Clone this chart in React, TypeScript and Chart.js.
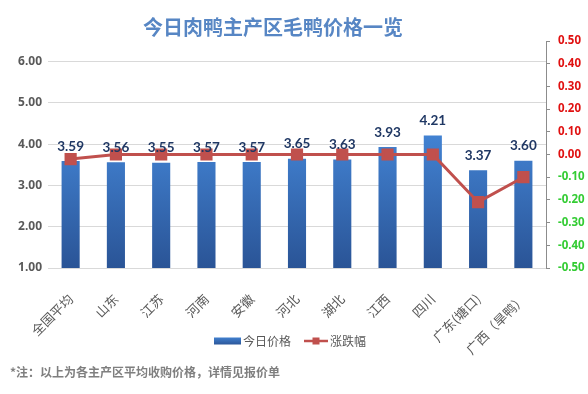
import React, { useEffect, useRef } from 'react';
import { Chart, registerables } from 'chart.js';
Chart.register(...registerables);

const categories = ['全国平均', '山东', '江苏', '河南', '安徽', '河北', '湖北', '江西', '四川', '广东(塘口)', '广西（旱鸭）'];
const todayPrice = [3.59, 3.56, 3.55, 3.57, 3.57, 3.65, 3.63, 3.93, 4.21, 3.37, 3.60];
const priceChange = [-0.02, 0, 0, 0, 0, 0, 0, 0, 0, -0.21, -0.10];
const leftTicks = [1, 2, 3, 4, 5, 6];
const seriesNames = ['今日价格', '涨跌幅'];
const titleText = '今日肉鸭主产区毛鸭价格一览';
const noteText = '*注：以上为各主产区平均收购价格，详情见报价单';

const CJK = '"Noto Sans CJK SC", "Noto Sans", sans-serif';
const NUM = 'Lato, "Noto Sans", sans-serif';
const BAR_TOP = '#4282d2';
const BAR_BOTTOM = '#2a5496';
const LINE = '#c0504d';

const decorPlugin = {
  id: 'decor',
  afterDatasetsDraw(chart: any) {
    const ctx = chart.ctx;
    const meta = chart.getDatasetMeta(0);
    ctx.save();
    ctx.font = `bold 13.5px ${NUM}`;
    ctx.fillStyle = '#203864';
    ctx.textAlign = 'center';
    ctx.textBaseline = 'bottom';
    meta.data.forEach((el: any, i: number) => {
      ctx.fillText(todayPrice[i].toFixed(2), el.x, el.y - 8);
    });
    ctx.restore();
  },
  afterDraw(chart: any) {
    const ctx = chart.ctx;
    ctx.save();
    // title
    ctx.font = `bold 20px ${CJK}`;
    ctx.fillStyle = '#5786c4';
    ctx.textAlign = 'center';
    ctx.textBaseline = 'middle';
    ctx.fillText(titleText, 273, 27);
    // legend
    ctx.font = `12px ${CJK}`;
    ctx.textAlign = 'left';
    ctx.fillStyle = '#595959';
    const w0 = ctx.measureText(seriesNames[0]).width;
    const w1 = ctx.measureText(seriesNames[1]).width;
    const total = 27 + 2 + w0 + 13 + 24 + 2 + w1;
    let x = 290 - total / 2;
    const ly = 341;
    const g = ctx.createLinearGradient(0, ly - 4, 0, ly + 4);
    g.addColorStop(0, BAR_TOP);
    g.addColorStop(1, BAR_BOTTOM);
    ctx.fillStyle = g;
    ctx.fillRect(x, ly - 3.5, 27, 7);
    x += 29;
    ctx.fillStyle = '#595959';
    ctx.fillText(seriesNames[0], x, ly);
    x += w0 + 13;
    ctx.strokeStyle = LINE;
    ctx.lineWidth = 2.5;
    ctx.beginPath();
    ctx.moveTo(x, ly);
    ctx.lineTo(x + 24, ly);
    ctx.stroke();
    ctx.fillStyle = LINE;
    ctx.fillRect(x + 12 - 3.5, ly - 3.5, 7, 7);
    x += 26;
    ctx.fillStyle = '#595959';
    ctx.fillText(seriesNames[1], x, ly);
    // note
    ctx.font = `bold 12px ${CJK}`;
    ctx.fillStyle = '#7f7f7f';
    ctx.fillText(noteText, 10, 372);
    ctx.restore();
  },
};

export default function App() {
  const ref = useRef<HTMLCanvasElement>(null);
  useEffect(() => {
    document.body.style.margin = '0';
    const canvas = ref.current;
    if (!canvas) return;
    const chart = new Chart(canvas, {
      data: {
        labels: categories,
        datasets: [
          {
            type: 'bar',
            label: seriesNames[0],
            data: todayPrice,
            yAxisID: 'y',
            order: 2,
            categoryPercentage: 1,
            barPercentage: 0.4,
            backgroundColor: (c: any) => {
              const { chart: ch } = c;
              const area = ch.chartArea;
              if (!area) return BAR_BOTTOM;
              const ys = ch.scales.y;
              const g = ch.ctx.createLinearGradient(0, ys.getPixelForValue(4.2), 0, area.bottom);
              g.addColorStop(0, BAR_TOP);
              g.addColorStop(1, BAR_BOTTOM);
              return g;
            },
          } as any,
          {
            type: 'line',
            label: seriesNames[1],
            data: priceChange,
            yAxisID: 'y1',
            order: 1,
            borderColor: LINE,
            backgroundColor: LINE,
            borderWidth: 3,
            pointStyle: 'rect',
            pointRadius: 6.5,
            pointBackgroundColor: LINE,
            pointBorderColor: LINE,
            tension: 0,
          } as any,
        ],
      },
      options: {
        animation: false,
        responsive: true,
        maintainAspectRatio: false,
        layout: { padding: { top: 41, bottom: 0, left: 0, right: 0 } },
        plugins: {
          legend: { display: false },
          title: { display: false },
          tooltip: { enabled: false },
        },
        scales: {
          x: {
            grid: { display: false },
            border: { display: true, color: '#d9d9d9' },
            ticks: {
              minRotation: 45,
              maxRotation: 45,
              autoSkip: false,
              color: '#595959',
              font: { family: CJK, size: 13 },
              padding: 15,
            },
            afterFit: (s: any) => { s.height = 126; },
          },
          y: {
            position: 'left',
            min: 1,
            max: 6.5,
            border: { display: false },
            grid: { color: '#d9d9d9', drawTicks: false },
            ticks: {
              color: '#595959',
              font: { family: '"Noto Sans", sans-serif', size: 12, weight: 'bold' },
              padding: 6,
              callback: (v: any) => Number(v).toFixed(2),
            },
            afterBuildTicks: (s: any) => { s.ticks = leftTicks.map((v) => ({ value: v })); },
            afterFit: (s: any) => { s.width = 48; },
          },
          y1: {
            position: 'right',
            min: -0.5,
            max: 0.5,
            border: { display: true, color: '#8c8c8c' },
            grid: { drawOnChartArea: false, drawTicks: true, tickLength: 4, color: '#8c8c8c' },
            ticks: {
              stepSize: 0.1,
              padding: 8,
              font: { family: '"Noto Sans", sans-serif', size: 11.5, weight: 'bold' },
              color: (c: any) => (c.tick && c.tick.value < -1e-9 ? '#33cc33' : '#e01010'),
              callback: (v: any) => (Math.abs(Number(v)) < 1e-9 ? 0 : Number(v)).toFixed(2),
            },
            afterFit: (s: any) => { s.width = 42; },
          },
        },
      } as any,
      plugins: [decorPlugin],
    });
    return () => chart.destroy();
  }, []);
  return (
    <div style={{ position: 'fixed', left: 0, top: 0, width: 588, height: 394, background: '#fff' }}>
      <canvas ref={ref} />
    </div>
  );
}
